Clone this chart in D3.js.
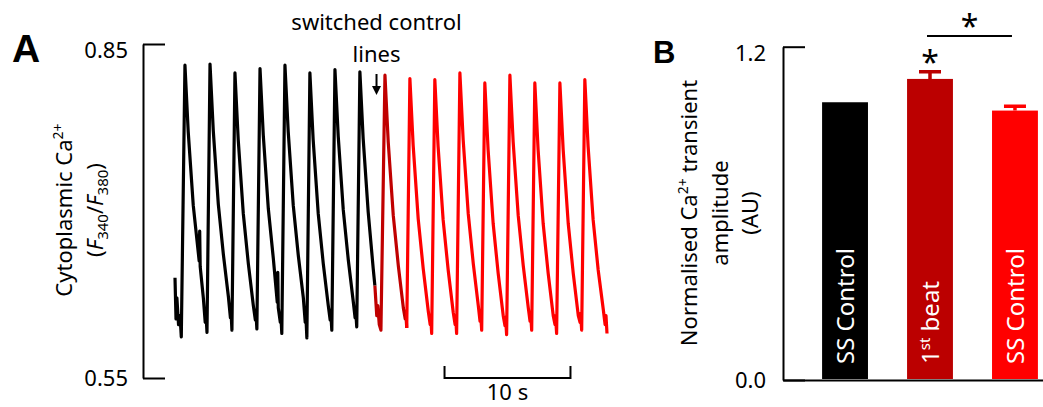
<!DOCTYPE html>
<html>
<head>
<meta charset="utf-8">
<script src="https://cdn.jsdelivr.net/npm/d3@7"></script>
<style>
  body { margin: 0; background: #fff; }
  svg { display: block; font-family: 'Noto Sans', sans-serif; }
</style>
</head>
<body>
<div id="chart"></div>
<script>
// ---- Panel A: F340/F380 ratio trace, [time (s), ratio] ----
const traceBlack = [
  [0.00, 0.640], [0.08, 0.603], [0.15, 0.622], [0.28, 0.598], [0.40, 0.606], [0.50, 0.587],
  [0.79, 0.831], [1.05, 0.771], [1.45, 0.705], [1.92, 0.655], [1.96, 0.682], [2.00, 0.650],
  [2.25, 0.622], [2.40, 0.600], [2.45, 0.610], [2.54, 0.591],
  [2.78, 0.832], [3.04, 0.772], [3.44, 0.706], [3.84, 0.661], [4.24, 0.623], [4.40, 0.604], [4.44, 0.612], [4.52, 0.593],
  [4.76, 0.824], [5.02, 0.764], [5.42, 0.698], [5.82, 0.653], [6.22, 0.615], [6.38, 0.602], [6.42, 0.611], [6.50, 0.594],
  [6.75, 0.828], [7.01, 0.768], [7.41, 0.702], [7.81, 0.657], [8.12, 0.618], [8.16, 0.645], [8.20, 0.613],
  [8.36, 0.600], [8.40, 0.608], [8.48, 0.590],
  [8.73, 0.831], [8.99, 0.771], [9.39, 0.705], [9.79, 0.660], [10.19, 0.622], [10.34, 0.600], [10.38, 0.609], [10.47, 0.586],
  [10.71, 0.824], [10.97, 0.764], [11.37, 0.698], [11.77, 0.653], [12.17, 0.615], [12.32, 0.602], [12.36, 0.611], [12.45, 0.593],
  [12.70, 0.827], [12.96, 0.767], [13.36, 0.701], [13.76, 0.656], [14.16, 0.618], [14.30, 0.604], [14.34, 0.612], [14.43, 0.596],
  [14.68, 0.825], [14.94, 0.765], [15.34, 0.699], [15.74, 0.648], [15.87, 0.633]
];
const traceDarkRed = [
  [15.87, 0.633], [16.02, 0.606], [16.10, 0.615], [16.22, 0.598], [16.35, 0.593],
  [16.67, 0.822], [16.93, 0.762], [17.33, 0.696], [17.73, 0.651], [18.13, 0.613], [18.28, 0.603], [18.32, 0.610], [18.40, 0.595]
];
const traceRed = [
  [18.40, 0.595],
  [18.65, 0.819], [18.91, 0.759], [19.31, 0.693], [19.71, 0.648], [20.11, 0.610], [20.26, 0.598], [20.30, 0.606], [20.38, 0.590],
  [20.63, 0.818], [20.89, 0.758], [21.29, 0.692], [21.69, 0.647], [22.09, 0.609], [22.24, 0.598], [22.28, 0.606], [22.36, 0.590],
  [22.62, 0.824], [22.88, 0.764], [23.28, 0.698], [23.68, 0.653], [24.08, 0.615], [24.22, 0.601], [24.26, 0.609], [24.35, 0.593],
  [24.60, 0.815], [24.86, 0.755], [25.26, 0.689], [25.66, 0.644], [26.06, 0.606], [26.20, 0.597], [26.24, 0.605], [26.33, 0.589],
  [26.59, 0.822], [26.85, 0.762], [27.25, 0.696], [27.65, 0.651], [28.05, 0.613], [28.19, 0.601], [28.23, 0.609], [28.32, 0.593],
  [28.57, 0.815], [28.83, 0.755], [29.23, 0.689], [29.63, 0.644], [30.03, 0.606], [30.17, 0.598], [30.21, 0.606], [30.30, 0.590],
  [30.56, 0.815], [30.82, 0.755], [31.22, 0.689], [31.62, 0.644], [32.02, 0.606], [32.16, 0.600], [32.20, 0.608], [32.29, 0.593],
  [32.54, 0.818], [32.80, 0.758], [33.20, 0.692], [33.60, 0.647], [34.00, 0.612], [34.15, 0.598], [34.22, 0.606], [34.30, 0.590]
];
const ratioTicks = [0.55, 0.85];
const timeDomain = [0, 34.3];
const scaleBarSec = [21.4, 31.4];
const switchTime = 16.0;

// ---- Panel B: normalised transient amplitude ----
const barKeys = ['ssBefore', 'firstBeat', 'ssAfter'];
const barLabels = ['SS Control', '1st beat', 'SS Control'];
const amplitudes = [1.0, 1.084, 0.970];
const amplitudeSem = [0, 0.026, 0.016];
const barColors = ['#000000', '#bb0000', '#ff0000'];
const amplitudeTicks = [0, 1.2];

const width = 1043, height = 407;

const svg = d3.select('#chart')
  .append('svg')
  .attr('width', width)
  .attr('height', height);

// ================= Panel A =================
const x = d3.scaleLinear().domain(timeDomain).range([175, 607]);
const y = d3.scaleLinear().domain([0.55, 0.85]).range([378, 44]);

const axisA = svg.append('g')
  .attr('transform', 'translate(143,0)')
  .call(d3.axisLeft(y)
    .tickValues(ratioTicks)
    .tickFormat(d3.format('.2f'))
    .tickSizeInner(-22)
    .tickSizeOuter(0)
    .tickPadding(15));

const line = d3.line()
  .x(d => x(d[0]))
  .y(d => y(d[1]));

[[traceBlack, '#000000'], [traceDarkRed, '#c00000'], [traceRed, '#ff0000']].forEach(([data, color]) => {
  svg.append('path')
    .datum(data)
    .attr('fill', 'none')
    .attr('stroke', color)
    .attr('stroke-width', 3.2)
    .attr('stroke-linejoin', 'round')
    .attr('d', line);
});

// annotation: switched control lines
svg.append('text')
  .attr('x', x(switchTime)).attr('y', 30)
  .attr('text-anchor', 'middle')
  .attr('font-size', 22)
  .text('switched control');
svg.append('text')
  .attr('x', x(switchTime)).attr('y', 62)
  .attr('text-anchor', 'middle')
  .attr('font-size', 22)
  .text('lines');
const ax = x(switchTime);
svg.append('path')
  .attr('d', `M${ax},74V90`)
  .attr('stroke', '#000')
  .attr('stroke-width', 2);
svg.append('path')
  .attr('d', `M${ax - 4.5},86L${ax + 4.5},86L${ax},95Z`)
  .attr('fill', '#000');

// 10 s scale bar
const sb0 = x(scaleBarSec[0]), sb1 = x(scaleBarSec[1]);
svg.append('path')
  .attr('d', `M${sb0},366V378H${sb1}V366`)
  .attr('fill', 'none')
  .attr('stroke', '#000')
  .attr('stroke-width', 2);
svg.append('text')
  .attr('x', (sb0 + sb1) / 2).attr('y', 400)
  .attr('text-anchor', 'middle')
  .attr('font-size', 22)
  .text('10 s');

// y label A
const labA = svg.append('g')
  .attr('transform', 'translate(0,210) rotate(-90)')
  .attr('text-anchor', 'middle')
  .attr('font-size', 22);
const la1 = labA.append('text').attr('y', 72);
la1.append('tspan').text('Cytoplasmic Ca');
la1.append('tspan').attr('font-size', 14).attr('dy', -9).text('2+');
const la2 = labA.append('text').attr('y', 103);
la2.append('tspan').text('(');
la2.append('tspan').attr('font-style', 'italic').text('F');
la2.append('tspan').attr('font-size', 15).attr('dy', 5).text('340');
la2.append('tspan').attr('dy', -5).text('/');
la2.append('tspan').attr('font-style', 'italic').text('F');
la2.append('tspan').attr('font-size', 15).attr('dy', 5).text('380');
la2.append('tspan').attr('dy', -5).text(')');

svg.append('text')
  .attr('x', 12).attr('y', 62)
  .attr('font-family', 'Liberation Sans, Arial, sans-serif')
  .attr('font-weight', 'bold')
  .attr('font-size', 39)
  .text('A');

// ================= Panel B =================
const yB = d3.scaleLinear().domain([0, 1.2]).range([380, 46.7]);
const xB = d3.scaleBand().domain(barKeys).range([783, 1077])
  .paddingInner(0.46).paddingOuter(0.46);

const axisB = svg.append('g')
  .attr('transform', 'translate(783,0)')
  .call(d3.axisLeft(yB)
    .tickValues(amplitudeTicks)
    .tickFormat(d3.format('.1f'))
    .tickSizeInner(-22)
    .tickSizeOuter(0)
    .tickPadding(17));

svg.append('g')
  .attr('transform', 'translate(0,380)')
  .call(d3.axisBottom(xB).tickSize(0).tickSizeOuter(0).tickFormat(''));

[axisA, axisB].forEach(g => {
  g.selectAll('text').attr('font-size', 22).attr('fill', '#000').attr('font-family', 'Noto Sans, sans-serif');
  g.selectAll('.tick:last-of-type text').attr('dy', '0.62em');
});
svg.selectAll('.domain, .tick line').attr('stroke', '#000').attr('stroke-width', 2);

svg.selectAll('rect.bar')
  .data(barKeys)
  .join('rect')
  .attr('class', 'bar')
  .attr('x', d => xB(d))
  .attr('width', xB.bandwidth())
  .attr('y', (d, i) => yB(amplitudes[i]))
  .attr('height', (d, i) => yB(0) - yB(amplitudes[i]) - 1)
  .attr('fill', (d, i) => barColors[i]);

// error bars (upper only)
barKeys.forEach((k, i) => {
  if (!amplitudeSem[i]) return;
  const cx = xB(k) + xB.bandwidth() / 2;
  const top = yB(amplitudes[i] + amplitudeSem[i]);
  svg.append('path')
    .attr('d', `M${cx},${yB(amplitudes[i])}V${top}M${cx - 11},${top}H${cx + 11}`)
    .attr('stroke', barColors[i])
    .attr('stroke-width', 3.5)
    .attr('fill', 'none');
});

// bar labels inside bars
barKeys.forEach((k, i) => {
  const cx = xB(k) + xB.bandwidth() / 2;
  const t = svg.append('text')
    .attr('transform', `translate(${cx},364) rotate(-90)`)
    .attr('dy', '0.36em')
    .attr('fill', '#fff')
    .attr('font-size', 24);
  if (k === 'firstBeat') {
    t.append('tspan').text('1');
    t.append('tspan').attr('font-size', 15).attr('dy', -9).text('st');
    t.append('tspan').attr('dy', 9).text(' beat');
  } else {
    t.text(barLabels[i]);
  }
});

// significance
const c2 = xB('firstBeat') + xB.bandwidth() / 2;
const c3 = xB('ssAfter') + xB.bandwidth() / 2;
svg.append('path')
  .attr('d', `M${c2 - 3},36H${c3 - 3}`)
  .attr('stroke', '#000')
  .attr('stroke-width', 2);
svg.append('text')
  .attr('x', (c2 + c3) / 2 - 3).attr('y', 38)
  .attr('text-anchor', 'middle')
  .attr('font-size', 32)
  .text('*');
svg.append('text')
  .attr('x', c2).attr('y', 74)
  .attr('text-anchor', 'middle')
  .attr('font-size', 32)
  .text('*');

// y label B
const labB = svg.append('g')
  .attr('transform', 'translate(0,213) rotate(-90)')
  .attr('text-anchor', 'middle')
  .attr('font-size', 22);
const lb1 = labB.append('text').attr('y', 697);
lb1.append('tspan').text('Normalised Ca');
lb1.append('tspan').attr('font-size', 14).attr('dy', -9).text('2+');
lb1.append('tspan').attr('dy', 9).text(' transient');
labB.append('text').attr('y', 728).text('amplitude');
labB.append('text').attr('y', 758).text('(AU)');

svg.append('text')
  .attr('x', 653).attr('y', 63)
  .attr('font-family', 'Liberation Sans, Arial, sans-serif')
  .attr('font-weight', 'bold')
  .attr('font-size', 31)
  .text('B');
</script>
</body>
</html>
